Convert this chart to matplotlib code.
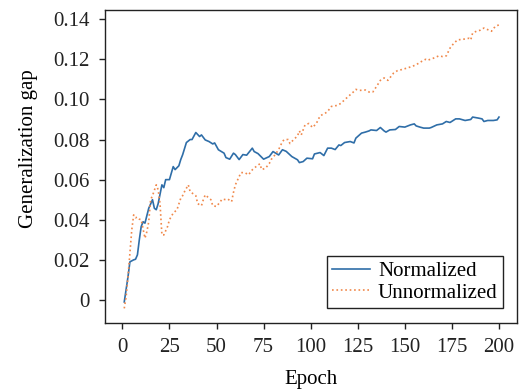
import matplotlib
matplotlib.use("Agg")
import matplotlib.pyplot as plt
from matplotlib.ticker import FuncFormatter

# Normalized series (epoch, gap)
norm_epoch = [1, 3, 4, 6, 7, 8, 9, 10, 11, 12, 14, 16, 17, 18, 19, 21, 22, 23, 25, 27, 28,
              30, 31, 32, 34, 36, 37, 39, 40, 41, 42, 44, 46, 48, 49, 51, 54, 55, 57, 59,
              60, 62, 64, 66, 69, 70, 72, 75, 78, 80, 83, 85, 87, 90, 93, 94, 96, 98, 101,
              102, 105, 107, 109, 111, 113, 115, 116, 118, 121, 123, 124, 127, 129, 131,
              132, 135, 137, 139, 140, 142, 145, 147, 150, 153, 155, 156, 158, 160, 163,
              164, 167, 170, 172, 174, 177, 179, 182, 185, 186, 189, 191, 192, 194, 197,
              199, 200]
norm_gap = [-0.001, 0.0116, 0.019, 0.020, 0.0203, 0.0225, 0.030, 0.0366, 0.039, 0.0383,
            0.0457, 0.050, 0.0457, 0.045, 0.048, 0.0574, 0.056, 0.060, 0.060, 0.0665,
            0.065, 0.0669, 0.070, 0.0724, 0.0785, 0.080, 0.080, 0.0835, 0.0825, 0.0815,
            0.0823, 0.0798, 0.079, 0.0778, 0.0783, 0.0749, 0.0732, 0.071, 0.0702, 0.0732,
            0.0725, 0.070, 0.0725, 0.0722, 0.0757, 0.074, 0.073, 0.0702, 0.0715, 0.074,
            0.0723, 0.0749, 0.0741, 0.0715, 0.0699, 0.0685, 0.069, 0.0707, 0.0704, 0.0728,
            0.0735, 0.072, 0.0757, 0.0757, 0.075, 0.0773, 0.077, 0.0785, 0.079, 0.0783,
            0.0807, 0.0832, 0.0837, 0.0843, 0.0848, 0.0845, 0.086, 0.0843, 0.0837, 0.0848,
            0.085, 0.0865, 0.0862, 0.0873, 0.0878, 0.0868, 0.0862, 0.0857, 0.0857, 0.086,
            0.0873, 0.0878, 0.089, 0.0885, 0.0903, 0.0903, 0.0895, 0.090, 0.0912, 0.0907,
            0.0903, 0.089, 0.0895, 0.0895, 0.0898, 0.0912]

# Unnormalized series (epoch, gap)
unnorm_epoch = [1, 2, 3, 4, 5, 6, 7, 8, 9, 10, 12, 13, 14, 15, 16, 18, 19, 20, 21, 22, 24,
                25, 27, 29, 31, 32, 33, 35, 36, 39, 40, 42, 43, 44, 46, 47, 48, 50, 52, 53,
                55, 56, 58, 59, 60, 62, 63, 65, 67, 69, 71, 73, 74, 76, 78, 79, 81, 83, 85,
                86, 88, 89, 91, 93, 94, 95, 97, 99, 101, 103, 105, 108, 109, 111, 114, 116,
                118, 120, 123, 124, 126, 129, 131, 133, 135, 137, 139, 141, 144, 146, 148,
                151, 154, 156, 159, 161, 162, 165, 168, 170, 172, 174, 176, 178, 181, 184,
                185, 186, 188, 190, 192, 194, 196, 198, 200]
unnorm_gap = [-0.0042, 0.0017, 0.0116, 0.0233, 0.035, 0.0424, 0.041, 0.0413, 0.0403, 0.040,
              0.0308, 0.034, 0.039, 0.050, 0.052, 0.0574, 0.055, 0.048, 0.0324, 0.0324,
              0.0366, 0.040, 0.0433, 0.045, 0.0507, 0.052, 0.054, 0.0574, 0.054, 0.052,
              0.048, 0.047, 0.050, 0.0524, 0.0508, 0.050, 0.047, 0.0466, 0.049, 0.0503,
              0.050, 0.0503, 0.049, 0.0536, 0.0574, 0.0615, 0.0635, 0.0635, 0.0624, 0.0649,
              0.0665, 0.0679, 0.065, 0.0657, 0.068, 0.070, 0.0723, 0.075, 0.079, 0.080,
              0.080, 0.078, 0.080, 0.0818, 0.0843, 0.0823, 0.0873, 0.088, 0.086, 0.088,
              0.0918, 0.0933, 0.094, 0.0965, 0.097, 0.098, 0.0998, 0.1015, 0.104, 0.105,
              0.1045, 0.1047, 0.1037, 0.1037, 0.1065, 0.1095, 0.1107, 0.1095, 0.1131,
              0.1143, 0.1148, 0.1156, 0.1165, 0.1173, 0.119, 0.120, 0.1195, 0.1205, 0.1217,
              0.1214, 0.1217, 0.1256, 0.128, 0.1297, 0.130, 0.1305, 0.1297, 0.1331, 0.134,
              0.1345, 0.1356, 0.1348, 0.134, 0.1364, 0.1372]

series_labels = ["Normalized", "Unnormalized"]
x_ticks = [0, 25, 50, 75, 100, 125, 150, 175, 200]
y_ticks = [0, 0.02, 0.04, 0.06, 0.08, 0.10, 0.12, 0.14]

plt.rcParams['font.family'] = ['Liberation Serif', 'DejaVu Serif']
plt.rcParams['font.size'] = 15

fig = plt.figure(figsize=(5.2, 3.92), dpi=100)
ax = fig.add_axes([0.202, 0.176, 0.792, 0.798])

ax.plot(norm_epoch, norm_gap, color='#2f6ea8', lw=1.2, label=series_labels[0])
ax.plot(unnorm_epoch, unnorm_gap, color='#f0884a', lw=1.2, ls=':', label=series_labels[1])

ax.set_xlim(-9.2, 209.5)
ax.set_ylim(-0.0115, 0.1445)
ax.set_xticks(x_ticks)
ax.set_yticks(y_ticks)
ax.yaxis.set_major_formatter(FuncFormatter(lambda v, p: '0' if abs(v) < 1e-9 else f'{v:.2f}'))
ax.tick_params(direction='out', length=4, width=1, pad=7, colors='#222222', labelcolor='#222222')
for s in ax.spines.values():
    s.set_color('#222222')
    s.set_linewidth(1.0)

ax.set_xlabel('Epoch')
ax.set_ylabel('Generalization gap')
ax.xaxis.set_label_coords(0.5, -0.150)
ax.yaxis.set_label_coords(-0.163, 0.557)

leg = ax.legend(loc='lower right', bbox_to_anchor=(0.966, 0.048), frameon=True,
                fancybox=False, edgecolor='#222222', framealpha=1, borderaxespad=0,
                borderpad=0.25, labelspacing=0.1, handlelength=1.8, handletextpad=0.4)
leg.get_frame().set_linewidth(1.0)

fig.savefig('out.png', dpi=100)
